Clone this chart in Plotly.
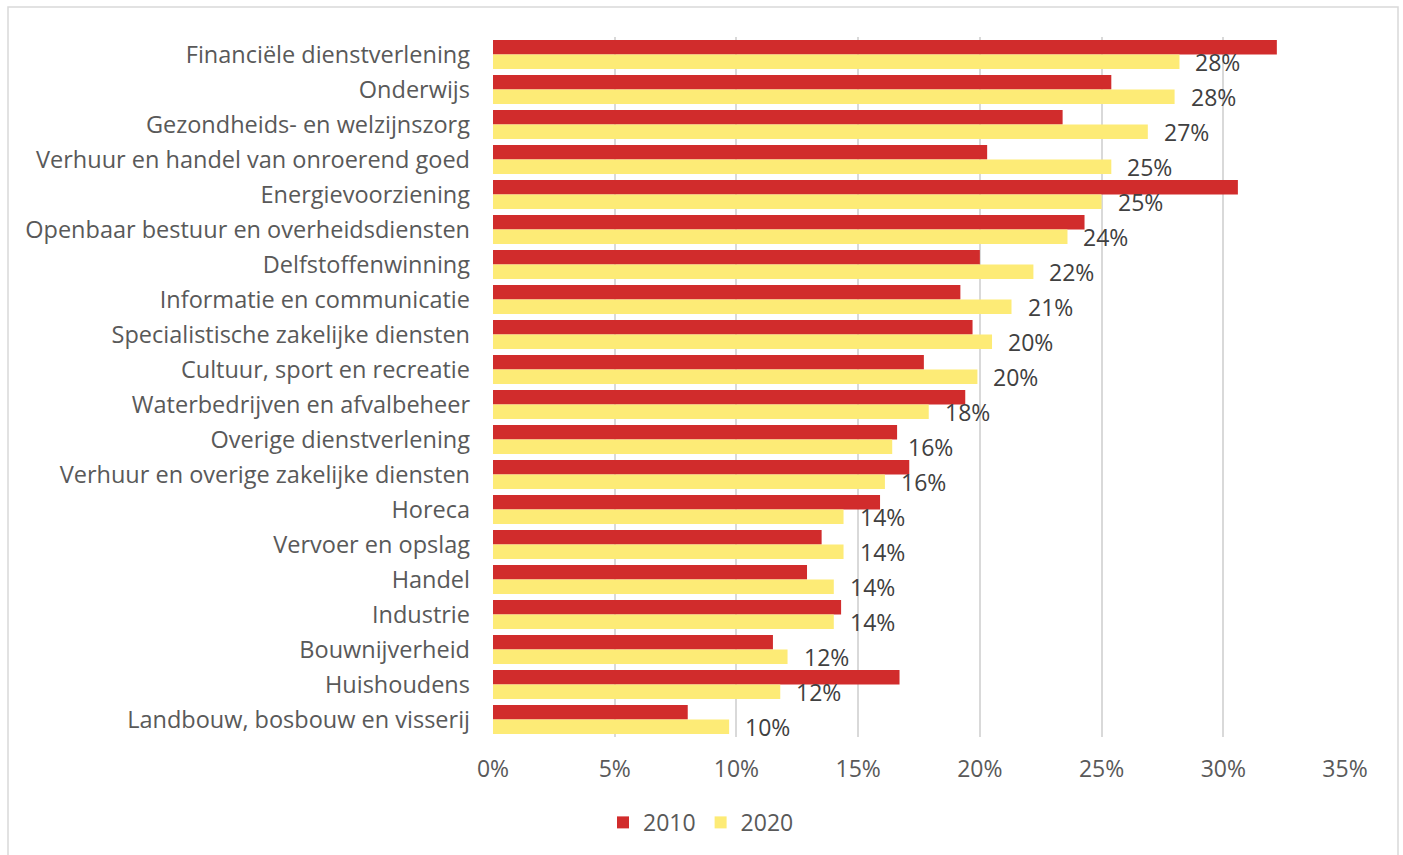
import plotly.graph_objects as go

categories = [
    "Financiële dienstverlening",
    "Onderwijs",
    "Gezondheids- en welzijnszorg",
    "Verhuur en handel van onroerend goed",
    "Energievoorziening",
    "Openbaar bestuur en overheidsdiensten",
    "Delfstoffenwinning",
    "Informatie en communicatie",
    "Specialistische zakelijke diensten",
    "Cultuur, sport en recreatie",
    "Waterbedrijven en afvalbeheer",
    "Overige dienstverlening",
    "Verhuur en overige zakelijke diensten",
    "Horeca",
    "Vervoer en opslag",
    "Handel",
    "Industrie",
    "Bouwnijverheid",
    "Huishoudens",
    "Landbouw, bosbouw en visserij",
]
values_2010 = [32.2, 25.4, 23.4, 20.3, 30.6, 24.3, 20.0, 19.2, 19.7, 17.7,
               19.4, 16.6, 17.1, 15.9, 13.5, 12.9, 14.3, 11.5, 16.7, 8.0]
values_2020 = [28.2, 28.0, 26.9, 25.4, 25.0, 23.6, 22.2, 21.3, 20.5, 19.9,
               17.9, 16.4, 16.1, 14.4, 14.4, 14.0, 14.0, 12.1, 11.8, 9.7]
x_ticks = [0, 5, 10, 15, 20, 25, 30, 35]
x_tick_labels = ["0%", "5%", "10%", "15%", "20%", "25%", "30%", "35%"]

FONT = "Open Sans"
FS = 23.5
RED = "#D12C2C"
YELLOW = "#FDEB76"

fig = go.Figure()
fig.add_trace(go.Bar(
    y=categories, x=values_2010, orientation="h", name="2010",
    marker=dict(color=RED, line=dict(width=0)),
))
fig.add_trace(go.Bar(
    y=categories, x=values_2020, orientation="h", name="2020",
    marker=dict(color=YELLOW, line=dict(width=0)),
))

annotations = [
    dict(x=v, y=c, xref="x", yref="y", text=f"{round(v):.0f}%",
         showarrow=False, xanchor="left", yanchor="middle",
         xshift=14, yshift=-7,
         font=dict(family=FONT, size=23, color="#404040"))
    for c, v in zip(categories, values_2020)
]

W, H = 1403, 855
L, R, T, B = 493, 58, 37, 116.5
pw, ph = W - L - R, H - T - B

fig.update_layout(
    width=W, height=H,
    margin=dict(l=L, r=R, t=T, b=B, pad=0),
    paper_bgcolor="white", plot_bgcolor="white",
    barmode="group", bargap=0.17, bargroupgap=0,
    font=dict(family=FONT, size=FS, color="#595959"),
    showlegend=True,
    legend=dict(
        orientation="h", x=(701 - L) / pw, xanchor="center",
        y=(T + ph - 823) / ph, yanchor="middle",
        font=dict(family=FONT, size=23, color="#595959"),
        itemwidth=30, traceorder="normal",
    ),
    xaxis=dict(
        range=[0, 35], tickvals=x_ticks, ticktext=x_tick_labels,
        showgrid=True, gridcolor="#D9D9D9", gridwidth=1.5,
        zeroline=False, showline=False, ticks="",
        ticklabelstandoff=16,
        tickfont=dict(family=FONT, size=23, color="#595959"),
    ),
    yaxis=dict(
        range=[len(categories) - 0.5, -0.5], showgrid=False, zeroline=False,
        showline=False, ticks="", ticklabelstandoff=22,
        tickfont=dict(family=FONT, size=FS, color="#595959"),
    ),
    annotations=annotations,
    shapes=[dict(
        type="rect", xref="paper", yref="paper",
        x0=(8 - L) / pw, x1=(1398 - L) / pw,
        y0=(T + ph - 860) / ph, y1=(T + ph - 7) / ph,
        line=dict(color="#D9D9D9", width=1.5), fillcolor="rgba(0,0,0,0)",
        layer="below",
    )],
)

fig.write_html("out.html", config={"displayModeBar": False},
               post_script="document.body.style.margin='0';")
